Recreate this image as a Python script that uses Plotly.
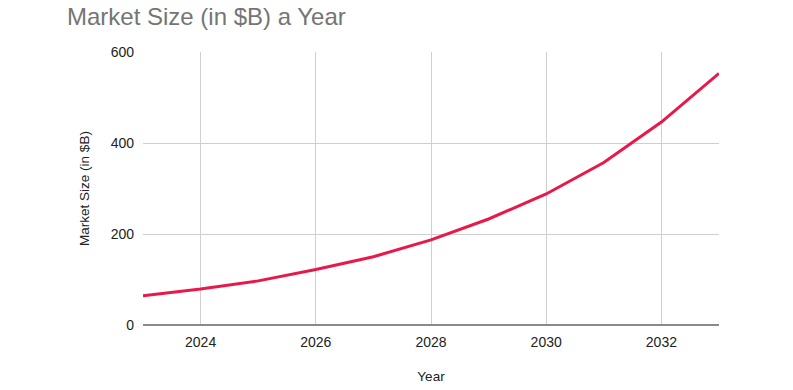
import plotly.graph_objects as go

years = [2023, 2024, 2025, 2026, 2027, 2028, 2029, 2030, 2031, 2032, 2033]
market_size = [64, 79, 97, 122, 150, 187, 233, 288, 357, 446, 553]
x_ticks = [2024, 2026, 2028, 2030, 2032]
y_ticks = [0, 200, 400, 600]

W, H = 785, 382  # page body has an 8px margin

fig = go.Figure()
fig.add_trace(go.Scatter(
    x=years, y=market_size, mode="lines",
    line=dict(color="#E8194A", width=3),
    showlegend=False,
))

fig.update_layout(
    width=W, height=H,
    margin=dict(l=135, r=74, t=44, b=65),
    paper_bgcolor="white", plot_bgcolor="white",
    font=dict(family="Liberation Sans, Arial, sans-serif", size=14, color="#222222"),
    title=dict(text="Market Size (in $B) a Year", x=59/W, xanchor="left",
               y=1 - 9/H, yanchor="middle",
               font=dict(size=24, color="#757575")),
)
fig.update_xaxes(
    range=[2023, 2033], tickvals=x_ticks, ticktext=[str(v) for v in x_ticks],
    showgrid=True, gridcolor="#d0d0d0", gridwidth=1,
    showline=False, zeroline=False, ticks="", ticklabelstandoff=7,
    title=dict(text="Year", standoff=22, font=dict(size=13.5, color="#222222")),
    automargin=False,
)
fig.update_yaxes(
    range=[0, 600], tickvals=y_ticks,
    showgrid=True, gridcolor="#d0d0d0", gridwidth=1,
    zeroline=True, zerolinecolor="#8a8a8a", zerolinewidth=2,
    showline=False, ticks="", ticklabelstandoff=8,
    title=dict(text="Market Size (in $B)", standoff=17, font=dict(size=13.5, color="#222222")),
    automargin=False,
)

fig.write_html("out.html")
